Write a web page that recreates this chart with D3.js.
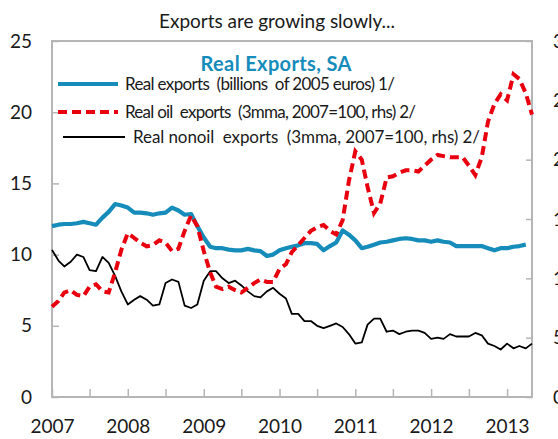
<!DOCTYPE html>
<html>
    <head>
        <script src="https://d3js.org/d3.v7.min.js"></script>
        <style>
            body { margin: 0; background: #fff; }
            text { font-family: Lato, "Open Sans", sans-serif; fill: #1a1a1a; }
        </style>
    </head>
    <body>
        <svg height='439' width='558'></svg>

        <script>
            const svg = d3.select('svg');

            // monthly, Jan 2007 .. May 2013
            const startMonth = new Date(2007, 0, 1);
            const endMonth = new Date(2013, 4, 1);
            const years = ['2007','2008','2009','2010','2011','2012','2013'];

            // billions of 2005 euros (lhs), ends Apr 2013
            const realExports = [12.0,12.1,12.15,12.15,12.2,12.3,12.2,12.1,12.6,13.0,13.55,13.45,
                13.3,12.95,12.95,12.9,12.8,12.9,12.95,13.3,13.1,12.8,12.85,12.0,
                11.2,10.55,10.45,10.45,10.35,10.3,10.3,10.4,10.3,10.25,9.9,10.0,
                10.3,10.45,10.55,10.65,10.8,10.8,10.75,10.3,10.6,10.85,11.7,11.4,
                11.0,10.45,10.55,10.7,10.85,10.9,11.0,11.1,11.15,11.1,11.0,11.0,
                10.9,11.0,10.9,10.85,10.6,10.6,10.6,10.6,10.6,10.45,10.3,10.45,
                10.45,10.55,10.6,10.7];

            // 3mma, 2007=100 (rhs)
            const oilExports = [76,81,88,90,86,85,93,95,89,88,105,124,
                138,134,130,127,128,132,130,123,125,140,153,144,
                123,105,93,91,93,90,88,92,96,99,97,97,
                108,112,122,128,134,140,143,145,140,137,149,182,
                207,200,177,155,163,185,186,189,191,191,190,195,
                200,204,203,202,202,202,195,187,202,232,247,255,
                250,272,268,256,238];

            const nonoilExports = [124,115,110,114,120,118,107,106,118,113,102,89,
                78,82,85,82,77,78,96,99,97,77,75,78,
                98,106,106,100,96,98,94,89,85,84,89,92,
                87,83,70,70,64,64,60,58,60,62,59,53,
                45,46,61,66,66,55,56,53,55,56,56,54,
                49,50,49,53,51,51,51,54,52,45,43,40,
                45,41,43,41,45];

            const months = d3.timeMonth.range(startMonth, d3.timeMonth.offset(endMonth, 1));

            const blue = '#168cba';
            const red = '#e8000f';
            const grey = '#b5b5b5';

            const x = d3.scaleTime().domain([startMonth, endMonth]).range([52, 532]);
            const yL = d3.scaleLinear().domain([0, 25]).range([397, 41]);
            const yR = d3.scaleLinear().domain([0, 300]).range([397, 41]);

            // axes
            const leftAxis = d3.axisLeft(yL).tickValues(d3.range(0, 26, 5)).tickSize(-7).tickPadding(20);
            const rightAxis = d3.axisRight(yR).tickValues(d3.range(0, 301, 50)).tickSize(-6).tickPadding(21);
            const halfYears = d3.timeMonth.every(6).range(startMonth, d3.timeMonth.offset(endMonth, 1));
            const bottomAxis = d3.axisBottom(x).tickValues(halfYears).tickSize(-8).tickPadding(23)
                .tickFormat(d => d.getMonth() === 0 ? years[d.getFullYear() - 2007] : '');

            const styleAxis = g => {
                g.select('.domain').remove();
                g.selectAll('line').attr('stroke', grey).attr('stroke-width', 1.5);
                g.selectAll('text').attr('font-size', 19).attr('fill', '#1a1a1a')
                    .style('font-family', 'Lato, sans-serif');
            };

            svg.append('g').attr('transform', 'translate(52,0)').call(leftAxis).call(styleAxis);
            svg.append('g').attr('transform', 'translate(532,0)').call(rightAxis).call(styleAxis);
            svg.append('g').attr('transform', 'translate(0,397)').call(bottomAxis).call(styleAxis);

            svg.append('rect')
                .attr('x', 52).attr('y', 41).attr('width', 480).attr('height', 356)
                .attr('fill', 'none').attr('stroke', grey).attr('stroke-width', 2);

            // lines
            const lineL = d3.line().x((d, i) => x(months[i])).y(d => yL(d));
            const lineR = d3.line().x((d, i) => x(months[i])).y(d => yR(d));

            svg.append('path').datum(nonoilExports).attr('d', lineR)
                .attr('fill', 'none').attr('stroke', '#000').attr('stroke-width', 1.8)
                .attr('stroke-linejoin', 'round');

            svg.append('path').datum(realExports).attr('d', lineL)
                .attr('fill', 'none').attr('stroke', blue).attr('stroke-width', 4.2)
                .attr('stroke-linejoin', 'round');

            svg.append('path').datum(oilExports).attr('d', lineR)
                .attr('fill', 'none').attr('stroke', red).attr('stroke-width', 4)
                .attr('stroke-dasharray', '9,5');

            // titles
            svg.append('text').attr('x', 277).attr('y', 28).attr('text-anchor', 'middle')
                .attr('font-size', 19).attr('textLength', 236)
                .text('Exports are growing slowly...');

            svg.append('text').attr('x', 276).attr('y', 71).attr('text-anchor', 'middle')
                .attr('font-size', 20).attr('font-weight', 'bold')
                .attr('textLength', 151)
                .style('fill', blue)
                .text('Real Exports, SA');

            // legend
            const legendItems = [
                {label: 'Real exports  (billions  of 2005 euros) 1/', color: blue, width: 4.2, dash: null, x0: 58, x1: 118, tx: 125, y: 84, len: 270},
                {label: 'Real oil  exports  (3mma, 2007=100, rhs) 2/', color: red, width: 4, dash: '9,5', x0: 58, x1: 118, tx: 125, y: 112, len: 291},
                {label: 'Real nonoil  exports  (3mma, 2007=100, rhs) 2/', color: '#000', width: 1.8, dash: null, x0: 63, x1: 125, tx: 133, y: 137, len: 347}
            ];

            const legend = svg.append('g');
            legend.selectAll('line').data(legendItems).enter().append('line')
                .attr('x1', d => d.x0).attr('x2', d => d.x1)
                .attr('y1', d => d.y).attr('y2', d => d.y)
                .attr('stroke', d => d.color).attr('stroke-width', d => d.width)
                .attr('stroke-dasharray', d => d.dash);

            legend.selectAll('text').data(legendItems).enter().append('text')
                .attr('x', d => d.tx).attr('y', d => d.y + 6)
                .attr('font-size', 17)
                .attr('textLength', d => d.len)
                .style('white-space', 'pre')
                .text(d => d.label);
        </script>
    </body>
</html>
